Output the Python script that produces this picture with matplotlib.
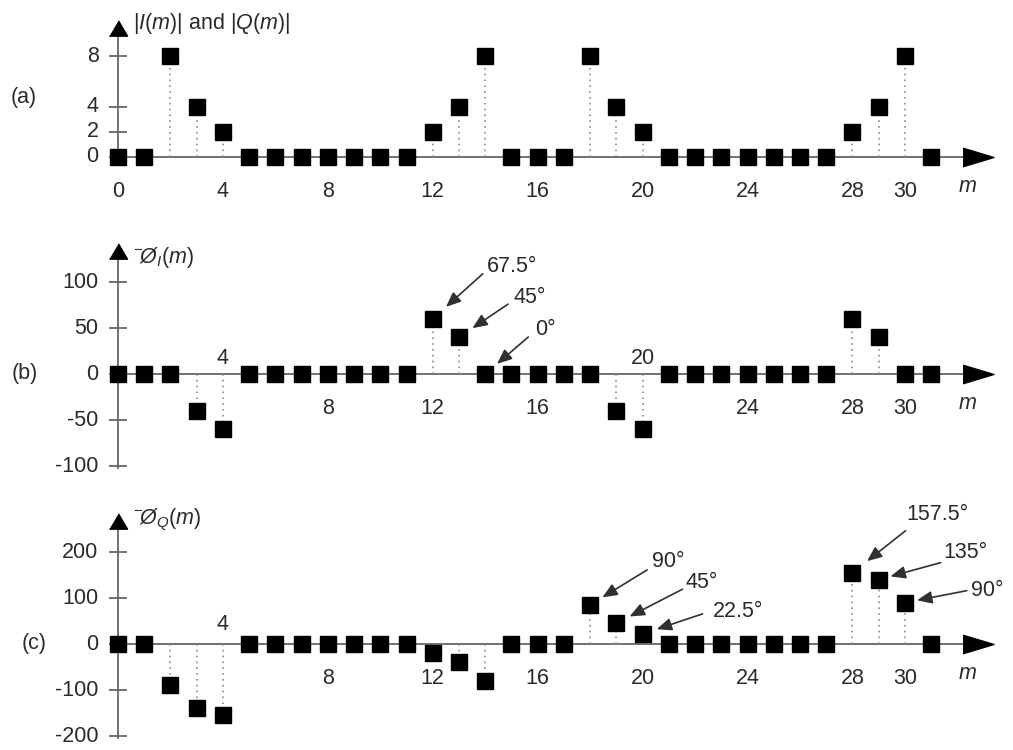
import numpy as np
import matplotlib.pyplot as plt

plt.rcParams['font.family'] = 'Liberation Sans'
plt.rcParams['mathtext.fontset'] = 'custom'
plt.rcParams['mathtext.rm'] = 'Liberation Sans'
plt.rcParams['mathtext.it'] = 'Liberation Sans:italic'

# data
m = np.arange(32)
mag = np.array([0, 0, 8, 4, 2, 0, 0, 0, 0, 0, 0, 0, 2, 4, 8, 0,
                0, 0, 8, 4, 2, 0, 0, 0, 0, 0, 0, 0, 2, 4, 8, 0])
phase_i = np.array([0, 0, 0, -40, -60, 0, 0, 0, 0, 0, 0, 0, 60, 40, 0, 0,
                    0, 0, 0, -40, -60, 0, 0, 0, 0, 0, 0, 0, 60, 40, 0, 0])
phase_q = np.array([0, 0, -90, -140, -155, 0, 0, 0, 0, 0, 0, 0, -20, -40, -80, 0,
                    0, 0, 85, 45, 22, 0, 0, 0, 0, 0, 0, 0, 155, 140, 90, 0])

xticks_a = [0, 4, 8, 12, 16, 20, 24, 28, 30]
xticks_bc = [4, 8, 12, 16, 20, 24, 28, 30]
yticks_a = [0, 2, 4, 8]
yticks_b = [-100, -50, 0, 50, 100]
yticks_c = [-200, -100, 0, 100, 200]

notes_b = [(12, '67.5°'), (13, '45°'), (14, '0°')]
notes_c = [(18, '90°'), (19, '45°'), (20, '22.5°'),
           (28, '157.5°'), (29, '135°'), (30, '90°')]

# layout (pixels)
W, H = 1013, 750
X0, XS = 118, 26.23
GRAY = '#666666'
TXT = '#2a2a2a'
FS = 15.5

fig = plt.figure(figsize=(W / 100, H / 100), dpi=100)

right_head = [(-1, -0.6), (1, 0), (-1, 0.6)]
up_head = [(-1, -0.85), (1, -0.85), (0, 0.85)]


def make_ax(top, bot, zero, scale):
    ax = fig.add_axes([0, 1 - bot / H, 1, (bot - top) / H])
    ax.set_xlim(-X0 / XS, (W - X0) / XS)
    ax.set_ylim((zero - bot) / scale, (zero - top) / scale)
    ax.axis('off')
    return ax


def draw(ax, vals, zero, scale, ybot_px, ytip_px, yticks, xticks, above, up_off):
    yhead = (zero - ytip_px - 7.7) / scale
    ybot = (zero - ybot_px) / scale
    ax.plot([0, 0], [ybot, yhead], color=GRAY, lw=1.3, zorder=1)
    ax.plot([0], [yhead], marker=up_head, ms=13, color='k', ls='none',
            zorder=5, clip_on=False)
    xhead = (977.5 - X0) / XS
    ax.plot([0, xhead], [0, 0], color=GRAY, lw=1.3, zorder=1)
    ax.plot([xhead], [0], marker=right_head, ms=22.3, color='k', ls='none',
            zorder=5, clip_on=False)

    ax.plot(np.zeros(len(yticks)), yticks, ls='none', marker='_', ms=13,
            mew=1.3, color=GRAY, zorder=2)
    for t in yticks:
        ax.annotate(str(t), (0, t), xytext=(-14, 0), textcoords='offset points',
                    ha='right', va='center', fontsize=FS, color=TXT)

    nz = vals != 0
    ax.vlines(m[nz], 0, vals[nz], colors='#8a8a8a', linestyles=(0, (1, 2.5)),
              lw=1.2, zorder=2)
    ax.plot(m, vals, ls='none', marker='s', ms=11.5, color='k', zorder=4)

    for t in xticks:
        off = up_off if t in above else -24.5
        ax.annotate(str(t), (t, 0), xytext=(0, off), textcoords='offset points',
                    ha='center', va='center', fontsize=FS, color=TXT)
    ax.annotate('$m$', (32.4, 0), xytext=(0, -21.5), textcoords='offset points',
                ha='center', va='center', fontsize=FS, color=TXT)


def note(ax, vals, mi, label, tail, text_off, shrink):
    ax.annotate('', xy=(mi, vals[mi]), xytext=tail, textcoords='offset points',
                arrowprops=dict(arrowstyle='-|>,head_length=0.9,head_width=0.38',
                                color='#303030', lw=1.2, shrinkA=0, shrinkB=shrink,
                                mutation_scale=10), zorder=6)
    ax.annotate(label, xy=(mi, vals[mi]), xytext=text_off, textcoords='offset points',
                ha='center', va='center', fontsize=FS, color=TXT)


# panel (a)
ax_a = make_ax(0, 215, 157, 12.6)
draw(ax_a, mag, 157, 12.6, 157, 20, yticks_a, xticks_a, [], 0)

# panel (b)
ax_b = make_ax(215, 490, 374, 0.92)
draw(ax_b, phase_i, 374, 0.92, 468, 243, yticks_b, xticks_bc, [4, 20], 11.5)
tails_b = [(36, 32.4), (35.3, 23.8), (31, 26.6)]
texts_b = [(57, 37.4), (51, 28.8), (43.2, 31.7)]
shr_b = [12.8, 11.6, 11.2]
for (mi, lab), tl, tx, s in zip(notes_b, tails_b, texts_b, shr_b):
    note(ax_b, phase_i, mi, lab, tl, tx, s)

# panel (c)
ax_c = make_ax(490, 750, 644, 0.46)
draw(ax_c, phase_q, 644, 0.46, 738, 513, yticks_c, xticks_bc, [4], 14)
tails_c = [(41, 25.2), (47.5, 24.5), (43.2, 14.4), (38.2, 30.2), (44.6, 12.2), (44.6, 8.6)]
texts_c = [(56.2, 31), (61.2, 29.5), (68.4, 15.8), (61.2, 41.8), (62.6, 19.4), (59, 8.6)]
shr_c = [10.3, 10.7, 10.7, 13.4, 8.8, 8.9]
for (mi, lab), tl, tx, s in zip(notes_c, tails_c, texts_c, shr_c):
    note(ax_c, phase_q, mi, lab, tl, tx, s)

# axis titles and panel letters
fig.text(133 / W, 1 - 24 / H, r'$|I(m)|$ and $|Q(m)|$', ha='left', va='center',
         fontsize=FS, color=TXT)
fig.text(133 / W, 1 - 258 / H, r'$^{-}\!Ø_{I}(m)$', ha='left', va='center',
         fontsize=FS, color=TXT)
fig.text(133 / W, 1 - 520 / H, r'$^{-}\!Ø_{Q}(m)$', ha='left', va='center',
         fontsize=FS, color=TXT)
fig.text(24 / W, 1 - 98 / H, '(a)', ha='center', va='center', fontsize=FS, color=TXT)
fig.text(25 / W, 1 - 374 / H, '(b)', ha='center', va='center', fontsize=FS, color=TXT)
fig.text(34 / W, 1 - 644 / H, '(c)', ha='center', va='center', fontsize=FS, color=TXT)

fig.savefig('out.png', dpi=100)
